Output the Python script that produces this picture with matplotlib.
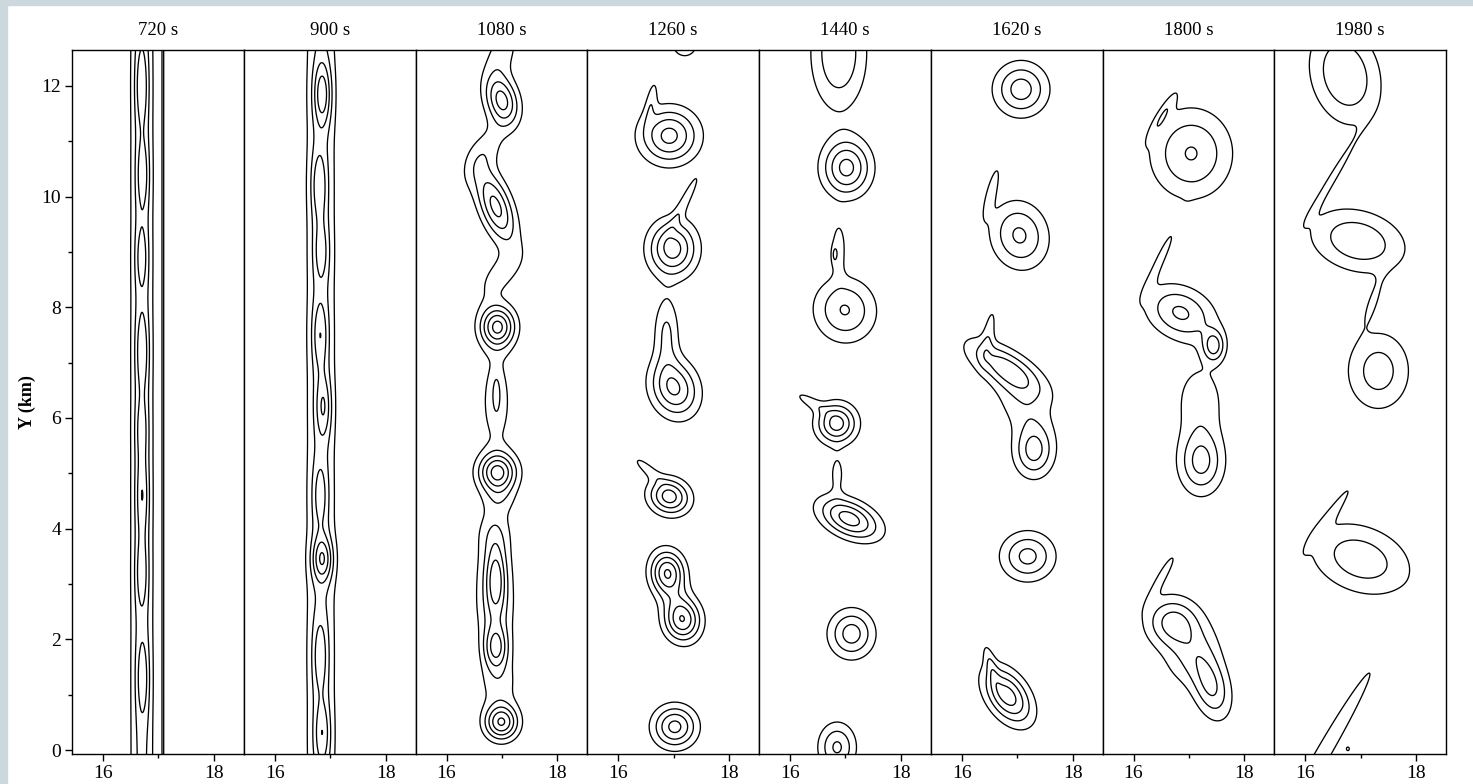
"""
Vortex-street contour panels: one strip per output time.
Each panel's field is rebuilt from a handful of elliptical blobs
(x, y, amplitude, sigma_a, sigma_b, angle_deg) read off the figure.
"""

import numpy as np
import matplotlib
matplotlib.use("Agg")
import matplotlib.pyplot as plt
from matplotlib.patches import Rectangle

plt.rcParams["font.family"] = ["Liberation Serif", "DejaVu Serif"]

# ---------------------------------------------------------------------------
# Data
# ---------------------------------------------------------------------------
times = ["720 s", "900 s", "1080 s", "1260 s", "1440 s", "1620 s", "1800 s", "1980 s"]
levels = [0.3, 0.6, 0.9, 1.2, 1.5]

xticks_major = [16, 18]
xticks_minor = [17]
yticks_major = [0, 2, 4, 6, 8, 10, 12]
yticks_minor = [1, 3, 5, 7, 9, 11]

# (x, y, amp, sig_a, sig_b, angle)
blobs_720 = [
    (16.70, 6.3, 0.70, 0.15, 60.0, 0),
    (17.08, 6.3, 0.60, 0.012, 60.0, 0),
    (16.70, 12.0, 0.50, 0.08, 0.50, 0),
    (16.72, 10.4, 0.45, 0.08, 0.45, 0),
    (16.70, 8.9, 0.40, 0.08, 0.40, 0),
    (16.71, 7.2, 0.50, 0.08, 0.50, 0),
    (16.70, 5.8, 0.40, 0.08, 0.40, 0),
    (16.71, 4.6, 0.50, 0.08, 0.50, 0),
    (16.70, 3.2, 0.45, 0.08, 0.45, 0),
    (16.72, 1.3, 0.45, 0.08, 0.50, 0),
]
blobs_900 = [
    (16.83, 6.3, 0.60, 0.20, 60.0, 0),
    (16.86, 11.85, 0.85, 0.11, 0.40, 0),
    (16.80, 10.2, 0.60, 0.10, 0.45, 0),
    (16.84, 9.0, 0.50, 0.10, 0.40, 0),
    (16.82, 7.5, 0.60, 0.10, 0.45, 0),
    (16.88, 6.2, 0.65, 0.10, 0.40, 0),
    (16.82, 4.6, 0.50, 0.10, 0.45, 0),
    (16.86, 3.45, 0.95, 0.13, 0.28, 0),
    (16.82, 1.7, 0.55, 0.10, 0.50, 0),
    (16.86, 0.3, 0.60, 0.10, 0.40, 0),
]
blobs_1080 = [
    (17.00, 11.74, 1.30, 0.20, 0.32, 15),
    (16.89, 9.82, 1.30, 0.20, 0.48, 20),
    (16.92, 7.65, 1.55, 0.22, 0.26, 0),
    (16.90, 6.45, 0.30, 0.06, 0.30, 0),
    (16.92, 5.02, 1.55, 0.24, 0.24, 0),
    (16.89, 3.10, 0.90, 0.13, 0.45, 0),
    (16.89, 1.85, 1.15, 0.16, 0.28, 0),
    (16.99, 0.50, 1.50, 0.21, 0.22, 0),
    (17.00, 12.6, 0.45, 0.20, 0.40, -20),
    (16.68, 10.8, 0.45, 0.20, 0.45, -30),
    (16.98, 8.6, 0.45, 0.20, 0.40, -40),
    (16.90, 6.3, 0.45, 0.22, 0.70, 0),
    (16.95, 4.55, 0.40, 0.22, 0.22, 0),
    (16.86, 3.95, 0.40, 0.22, 0.30, 0),
    (16.86, 3.20, 0.45, 0.26, 0.50, 0),
    (16.88, 2.45, 0.45, 0.25, 0.40, 0),
    (16.95, 1.20, 0.45, 0.25, 0.35, 0),
]
blobs_1260 = [
    (17.20, 12.75, 0.50, 0.20, 0.20, 0),
    (16.92, 11.10, 1.30, 0.36, 0.34, 0),
    (16.60, 11.75, 0.40, 0.07, 0.30, -10),
    (16.98, 9.06, 1.35, 0.30, 0.35, 0),
    (17.22, 9.95, 0.45, 0.07, 0.40, -27),
    (16.87, 7.54, 0.65, 0.16, 0.45, 0),
    (17.01, 6.54, 1.25, 0.29, 0.37, 20),
    (16.92, 4.58, 1.35, 0.26, 0.22, -20),
    (16.50, 5.10, 0.40, 0.08, 0.25, 50),
    (16.89, 3.22, 1.20, 0.21, 0.26, 0),
    (17.16, 2.34, 1.20, 0.23, 0.26, 0),
    (17.00, 2.80, 0.50, 0.22, 0.50, 20),
    (17.02, 0.42, 1.30, 0.27, 0.26, 0),
]
blobs_1440 = [
    (16.88, 12.60, 0.90, 0.34, 0.70, 0),
    (17.02, 10.52, 1.30, 0.30, 0.35, 0),
    (16.99, 7.95, 0.92, 0.38, 0.40, 20),
    (16.88, 9.10, 0.45, 0.10, 0.35, 0),
    (16.80, 8.95, 0.35, 0.04, 0.12, 0),
    (16.84, 5.90, 1.35, 0.25, 0.25, 0),
    (16.35, 6.30, 0.40, 0.08, 0.25, 60),
    (17.07, 4.18, 1.35, 0.40, 0.22, -25),
    (16.85, 5.00, 0.40, 0.10, 0.25, 0),
    (17.11, 2.10, 1.05, 0.28, 0.30, 0),
    (16.85, 0.05, 0.95, 0.23, 0.30, 0),
]
blobs_1620 = [
    (17.07, 11.94, 1.05, 0.33, 0.33, 0),
    (17.04, 9.30, 0.95, 0.35, 0.42, 15),
    (16.55, 10.15, 0.40, 0.08, 0.40, -15),
    (16.80, 6.90, 1.05, 0.55, 0.22, -32),
    (17.30, 5.40, 1.00, 0.25, 0.33, 0),
    (17.10, 6.20, 0.45, 0.45, 0.30, -50),
    (16.50, 7.60, 0.40, 0.08, 0.35, -10),
    (17.19, 3.50, 1.00, 0.33, 0.30, 0),
    (16.83, 0.98, 1.35, 0.24, 0.40, 35),
    (16.52, 1.55, 0.40, 0.07, 0.30, 15),
]
blobs_1800 = [
    (17.04, 10.78, 0.92, 0.50, 0.55, 0),
    (16.55, 11.50, 0.40, 0.07, 0.35, -30),
    (16.85, 7.90, 0.95, 0.45, 0.32, -25),
    (17.45, 7.30, 0.95, 0.14, 0.20, 0),
    (17.22, 5.20, 1.00, 0.28, 0.40, 0),
    (17.20, 6.30, 0.50, 0.32, 0.50, 0),
    (16.50, 8.90, 0.40, 0.08, 0.50, -25),
    (16.72, 2.30, 1.05, 0.35, 0.32, -20),
    (17.40, 1.15, 0.95, 0.23, 0.42, 15),
    (17.05, 1.70, 0.50, 0.32, 0.40, -40),
    (16.55, 3.20, 0.40, 0.08, 0.40, -30),
]
blobs_1980 = [
    (16.72, 12.20, 0.90, 0.42, 0.62, 15),
    (16.95, 9.20, 0.85, 0.60, 0.38, -15),
    (16.50, 10.35, 0.42, 0.07, 0.60, -31),
    (17.32, 6.85, 0.75, 0.40, 0.50, 0),
    (17.22, 8.10, 0.32, 0.10, 0.35, -20),
    (17.00, 3.45, 0.80, 0.65, 0.42, -20),
    (16.50, 4.30, 0.40, 0.07, 0.55, -35),
    (16.30, -0.10, 0.50, 0.13, 1.70, -30),
    (16.77, 0.02, 0.35, 0.04, 0.05, 0),
]
panels = [blobs_720, blobs_900, blobs_1080, blobs_1260,
          blobs_1440, blobs_1620, blobs_1800, blobs_1980]

# ---------------------------------------------------------------------------
# Field helper
# ---------------------------------------------------------------------------
gx = np.arange(15.3, 18.7, 0.008)
gy = np.arange(-0.3, 13.0, 0.008)
X, Y = np.meshgrid(gx, gy)


def field(blobs):
    z = np.zeros_like(X)
    for x0, y0, amp, sa, sb, ang in blobs:
        t = np.deg2rad(ang)
        dx, dy = X - x0, Y - y0
        u = dx * np.cos(t) + dy * np.sin(t)
        v = -dx * np.sin(t) + dy * np.cos(t)
        z += amp * np.exp(-0.5 * ((u / sa) ** 2 + (v / sb) ** 2))
    return z


# ---------------------------------------------------------------------------
# Figure
# ---------------------------------------------------------------------------
W, H = 1473, 784
fig = plt.figure(figsize=(W / 100, H / 100), dpi=100, facecolor="white")
fig.patches.append(Rectangle((0, 0), 7 / W, 1, transform=fig.transFigure,
                             color="#cdd7de", zorder=-5))
fig.patches.append(Rectangle((0, 1 - 5 / H), 1, 5 / H, transform=fig.transFigure,
                             color="#cdd7de", zorder=-5))

left0, pw = 72, 171.75
for i, (label, blobs) in enumerate(zip(times, panels)):
    ax = fig.add_axes([(left0 + i * pw) / W, 30 / H, pw / W, 704 / H])
    ax.contour(X, Y, field(blobs), levels=levels, colors="black", linewidths=0.95)
    ax.set_xlim(15.44, 18.54)
    ax.set_ylim(-0.072, 12.65)
    ax.set_title(label, fontsize=13.5, pad=11)

    ax.set_xticks(xticks_major)
    ax.set_xticks(xticks_minor, minor=True)
    ax.tick_params(axis="x", which="major", direction="out", length=5, width=1,
                   labelsize=14, pad=3)
    ax.tick_params(axis="x", which="minor", direction="out", length=3, width=1)
    if i == 0:
        ax.set_yticks(yticks_major)
        ax.set_yticks(yticks_minor, minor=True)
        ax.tick_params(axis="y", which="major", direction="out", length=5, width=1,
                       labelsize=14, pad=3)
        ax.tick_params(axis="y", which="minor", direction="out", length=3, width=1)
        ax.set_ylabel("Y (km)", fontsize=13, fontweight="bold", labelpad=4)
    else:
        ax.set_yticks([])
    for sp in ax.spines.values():
        sp.set_linewidth(1.0)

fig.savefig("out.png", dpi=100)
